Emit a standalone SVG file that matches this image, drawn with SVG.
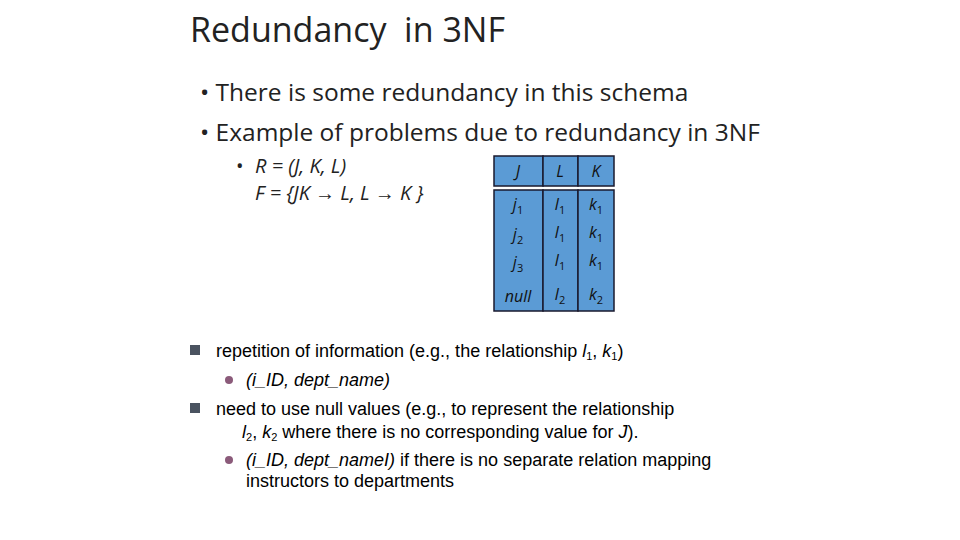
<svg xmlns="http://www.w3.org/2000/svg" width="960" height="540" viewBox="0 0 960 540">
<style>
.c{font-family:"Open Sans","Liberation Sans",sans-serif;fill:#222}
.a{font-family:"Liberation Sans",Arial,sans-serif;font-size:18px;fill:#000}
.t{font-family:"Open Sans","Liberation Sans",sans-serif;font-style:italic;font-size:16px;fill:#111;text-anchor:middle}
.cell{fill:#5b9bd5;stroke:#1a1a2e;stroke-width:1.5}
.s{font-size:11px;font-style:normal}
</style>
<rect width="960" height="540" fill="#fff"/>
<text class="c" x="190" y="42" font-size="34" xml:space="preserve">Redundancy  in 3NF</text>
<g id="bullets-top" class="c" font-size="24.5">
<text x="200" y="101">• There is some redundancy in this schema</text>
<text x="200" y="141">• Example of problems due to redundancy in 3NF</text>
</g>
<g id="schema" class="c" font-size="20" font-style="italic">
<text x="236" y="173" font-style="normal">•</text>
<text x="255" y="173">R = (J, K, L)</text>
<text x="255" y="200">F = {JK → L, L → K }</text>
</g>
<g id="table">
<rect class="cell" x="494" y="156" width="49" height="30"/>
<rect class="cell" x="543" y="156" width="35" height="30"/>
<rect class="cell" x="578" y="156" width="36" height="30"/>
<rect class="cell" x="494" y="190" width="49" height="121"/>
<rect class="cell" x="543" y="190" width="35" height="121"/>
<rect class="cell" x="578" y="190" width="36" height="121"/>
<text class="t" x="518" y="177">J</text><text class="t" x="560" y="177">L</text><text class="t" x="596" y="177">K</text>
<text class="t" x="518" y="210">j<tspan class="s" dy="4">1</tspan></text>
<text class="t" x="560" y="210">l<tspan class="s" dy="4">1</tspan></text>
<text class="t" x="596" y="210">k<tspan class="s" dy="4">1</tspan></text>
<text class="t" x="518" y="240">j<tspan class="s" dy="4">2</tspan></text>
<text class="t" x="560" y="238">l<tspan class="s" dy="4">1</tspan></text>
<text class="t" x="596" y="238">k<tspan class="s" dy="4">1</tspan></text>
<text class="t" x="518" y="268">j<tspan class="s" dy="4">3</tspan></text>
<text class="t" x="560" y="266">l<tspan class="s" dy="4">1</tspan></text>
<text class="t" x="596" y="266">k<tspan class="s" dy="4">1</tspan></text>
<text class="t" x="518" y="302">null</text>
<text class="t" x="560" y="300">l<tspan class="s" dy="4">2</tspan></text>
<text class="t" x="596" y="300">k<tspan class="s" dy="4">2</tspan></text>
</g>
<g id="notes" class="a">
<rect x="190" y="345" width="10" height="10" fill="#4a5360"/>
<text x="216" y="357">repetition of information (e.g., the relationship <tspan font-style="italic">l</tspan><tspan font-size="11" dy="3">1</tspan><tspan dy="-3">, </tspan><tspan font-style="italic">k</tspan><tspan font-size="11" dy="3">1</tspan><tspan dy="-3">)</tspan></text>
<circle cx="229" cy="380" r="4" fill="#8b5a7a"/>
<text x="246" y="386" font-style="italic">(i_ID, dept_name)</text>
<rect x="190" y="403" width="10" height="10" fill="#4a5360"/>
<text x="216" y="415">need to use null values (e.g., to represent the relationship</text>
<text x="242" y="438"><tspan font-style="italic">l</tspan><tspan font-size="11" dy="3">2</tspan><tspan dy="-3">, </tspan><tspan font-style="italic">k</tspan><tspan font-size="11" dy="3">2</tspan><tspan dy="-3"> where there is no corresponding value for </tspan><tspan font-style="italic">J</tspan>).</text>
<circle cx="229" cy="460" r="4" fill="#8b5a7a"/>
<text x="246" y="466"><tspan font-style="italic">(i_ID, dept_nameI)</tspan> if there is no separate relation mapping</text>
<text x="246" y="487">instructors to departments</text>
</g>
</svg>
